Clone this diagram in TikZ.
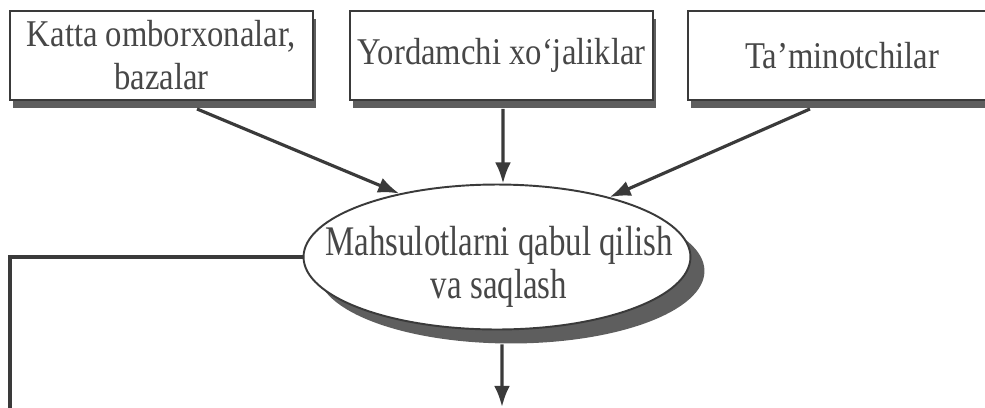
\documentclass[tikz,border=0pt]{standalone}
\usepackage{fontspec}
\setmainfont[FakeStretch=0.865]{Liberation Serif}
\newfontfamily\ovalfont[FakeStretch=0.78]{Liberation Serif}
\usetikzlibrary{shapes.geometric,shadows,arrows.meta}
\definecolor{ink}{HTML}{3A3A3A}
\definecolor{shade}{HTML}{5E5E5E}

\begin{document}
\begin{tikzpicture}[x=0.02cm,y=-0.02cm,>={Latex[length=12pt,width=9pt]},
  topbox/.style={draw=ink,line width=1.1pt,fill=white,minimum height=1.78cm,
    align=center,text=black!72,font=\fontsize{21.5}{24.5}\selectfont,
    drop shadow={shadow xshift=0.06cm,shadow yshift=-0.16cm,fill=shade,opacity=1}},
  oval/.style={ellipse,draw=ink,line width=1.1pt,fill=white,inner sep=0pt,
    minimum width=7.74cm,minimum height=2.9cm,
    drop shadow={shadow xshift=0.28cm,shadow yshift=-0.28cm,fill=shade,opacity=1}},
  ovaltext/.style={align=center,text=black!72,
    font=\ovalfont\fontsize{24}{24.5}\selectfont},
  arr/.style={->,draw=ink,line width=1.8pt}]
\useasboundingbox (0,0) rectangle (985,407);
% sources on top
\node[topbox,minimum width=6.06cm] (katta) at (161.5,55.5) {Katta omborxonalar,\\ bazalar};
\node[topbox,minimum width=6.06cm] (yord) at (501.5,55.5) {Yordamchi xo‘jaliklar};
\node[topbox,minimum width=6.16cm] (tamin) at (842,55.5) {Ta’minotchilar};
% central step
\node[oval] (mahs) at (497,257) {};
\node[ovaltext] (mahstxt) at (499,267) {Mahsulotlarni qabul qilish\\ va saqlash};
\coordinate (lbot) at (10,420);
\coordinate (dbot) at (502,407);
% connectors
\draw[arr] ([xshift=0.71cm,yshift=-0.16cm]katta.south) -- (mahs.147);
\draw[arr] ([xshift=0.03cm,yshift=-0.16cm]yord.south) -- ([xshift=0.12cm]mahs.north);
\draw[arr] ([xshift=-0.64cm,yshift=-0.16cm]tamin.south) -- (mahs.28);
\draw[draw=ink,line width=1.8pt] (mahs.west) -| (lbot);
\draw[arr] ([xshift=0.1cm,yshift=-0.28cm]mahs.south) -- (dbot);
\end{tikzpicture}
\end{document}
